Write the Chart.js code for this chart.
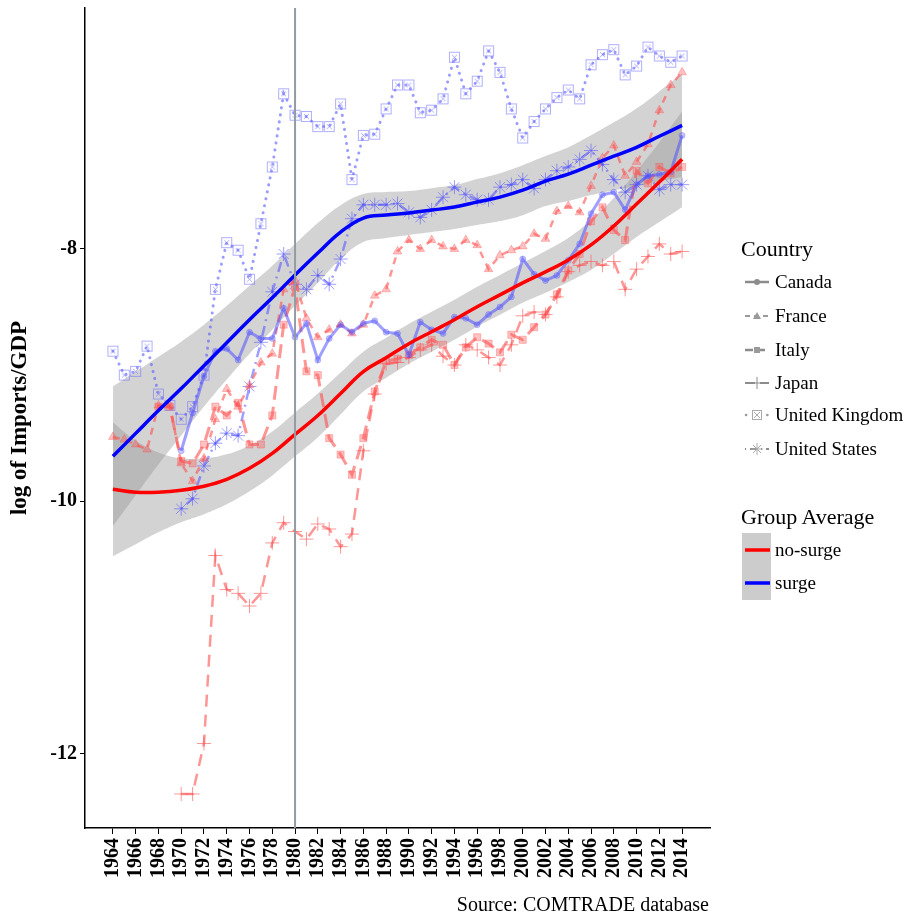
<!DOCTYPE html>
<html>
<head>
<meta charset="utf-8">
<script src="https://cdn.jsdelivr.net/npm/chart.js@4.4.1/dist/chart.umd.min.js"></script>
<style>
  html, body { margin: 0; padding: 0; background: #fff; }
  #wrap { position: relative; width: 907px; height: 920px; font-family: "Liberation Serif", serif; color: #000; }
  #chart { position: absolute; left: 0; top: 0; }
  .ltitle { position: absolute; left: 741px; font-size: 22px; line-height: 22px; }
  .item { position: absolute; left: 744px; height: 20px; display: flex; align-items: center; font-size: 19px; line-height: 20px; }
  .item svg { width: 26px; height: 20px; margin-right: 5px; }
  #gbox { position: absolute; left: 742px; top: 533px; width: 29px; height: 67px; background: #cccccc; }
  #source { position: absolute; right: 198px; top: 893px; font-size: 20px; line-height: 23px; }
</style>
</head>
<body>
<div id="wrap">
  <canvas id="chart" width="907" height="920"></canvas>

  <div class="ltitle" style="top:238px">Country</div>
  <div class="item" style="top:272px">
    <svg viewBox="0 0 26 20"><line x1="1" y1="10" x2="25" y2="10" stroke="#8c8c8c" stroke-width="2.5"/><circle cx="13" cy="10" r="3" fill="#8c8c8c"/></svg>Canada</div>
  <div class="item" style="top:306px">
    <svg viewBox="0 0 26 20"><line x1="1" y1="10" x2="25" y2="10" stroke="#9a9a9a" stroke-width="2" stroke-dasharray="5,4"/><polygon points="13,6 17,13 9,13" fill="#9a9a9a"/></svg>France</div>
  <div class="item" style="top:340px">
    <svg viewBox="0 0 26 20"><line x1="1" y1="10" x2="25" y2="10" stroke="#8c8c8c" stroke-width="2.5" stroke-dasharray="8,4"/><rect x="10" y="7" width="6" height="6" fill="#9a9a9a"/></svg>Italy</div>
  <div class="item" style="top:373px">
    <svg viewBox="0 0 26 20"><line x1="1" y1="10" x2="25" y2="10" stroke="#8c8c8c" stroke-width="2" stroke-dasharray="10,5"/><path d="M13 4 V16 M7 10 H19" stroke="#8c8c8c" stroke-width="1"/></svg>Japan</div>
  <div class="item" style="top:405px">
    <svg viewBox="0 0 26 20"><line x1="2" y1="10" x2="25" y2="10" stroke="#9a9a9a" stroke-width="2.5" stroke-linecap="round" stroke-dasharray="0.1,7"/><rect x="8.5" y="5.5" width="9" height="9" fill="#fff" stroke="#aaaaaa"/><path d="M10 7 L16 13 M16 7 L10 13" stroke="#aaaaaa"/></svg>United Kingdom</div>
  <div class="item" style="top:439px">
    <svg viewBox="0 0 26 20"><line x1="1" y1="10" x2="25" y2="10" stroke="#8c8c8c" stroke-width="2" stroke-dasharray="1,4,7,4"/><path d="M13 4 V16 M7 10 H19 M9 6 L17 14 M17 6 L9 14" stroke="#aaaaaa" stroke-width="1"/></svg>United States</div>

  <div class="ltitle" style="top:506px">Group Average</div>
  <div id="gbox"></div>
  <div class="item" style="top:540px">
    <svg viewBox="0 0 26 20"><line x1="1" y1="10" x2="26" y2="10" stroke="#ff0000" stroke-width="3.5"/></svg>no-surge</div>
  <div class="item" style="top:573px">
    <svg viewBox="0 0 26 20"><line x1="1" y1="10" x2="26" y2="10" stroke="#0000ff" stroke-width="3.5"/></svg>surge</div>

  <div id="source">Source: COMTRADE database</div>
</div>

<script>
// Years of the country series
const years = [1964, 1965, 1966, 1967, 1968, 1969, 1970, 1971, 1972, 1973,
  1974, 1975, 1976, 1977, 1978, 1979, 1980, 1981, 1982, 1983,
  1984, 1985, 1986, 1987, 1988, 1989, 1990, 1991, 1992, 1993,
  1994, 1995, 1996, 1997, 1998, 1999, 2000, 2001, 2002, 2003,
  2004, 2005, 2006, 2007, 2008, 2009, 2010, 2011, 2012, 2013, 2014];

// log of Imports/GDP per country (null = no data)
const canada = [null, null, null, null, null, null, -9.60, -9.30, -9.01, -8.81,
  -8.79, -8.88, -8.66, -8.71, -8.71, -8.47, -8.70, -8.59, -8.88, -8.71,
  -8.60, -8.66, -8.59, -8.57, -8.66, -8.67, -8.84, -8.58, -8.64, -8.67,
  -8.54, -8.55, -8.60, -8.52, -8.46, -8.38, -8.08, -8.20, -8.25, -8.21,
  -8.09, -7.96, -7.72, -7.57, -7.55, -7.69, -7.49, -7.42, -7.41, -7.39, -7.10];
const france = [-9.49, -9.51, -9.55, -9.59, -9.24, -9.24, -9.70, -9.84, -9.66, -9.35,
  -9.11, -9.25, -9.08, -8.90, -8.83, -8.32, -8.25, -8.55, -8.70, -8.64,
  -8.60, -8.67, -8.60, -8.37, -8.32, -8.02, -7.93, -8.00, -7.93, -7.98,
  -8.00, -7.93, -7.97, -8.16, -8.05, -8.01, -7.98, -7.88, -7.92, -7.70,
  -7.66, -7.71, -7.50, -7.28, -7.18, -7.42, -7.31, -7.17, -6.90, -6.70, -6.60];
const italy = [null, null, null, null, -9.25, -9.25, -9.68, -9.70, -9.55, -9.25,
  -9.32, -9.22, -9.55, -9.55, -9.32, -8.60, -8.30, -8.97, -9.00, -9.50,
  -9.63, -9.79, -9.50, -9.13, -8.89, -8.87, -8.84, -8.78, -8.72, -8.76,
  -8.92, -8.78, -8.70, -8.75, -8.82, -8.68, -8.72, -8.62, -8.52, -8.36,
  -8.17, -8.04, -7.78, -7.67, -7.85, -7.93, -7.38, -7.48, -7.35, -7.40, -7.35];
const japan = [null, null, null, null, null, null, -12.32, -12.32, -11.92, -10.43,
  -10.70, -10.73, -10.83, -10.73, -10.33, -10.17, -10.24, -10.30, -10.18, -10.22,
  -10.36, -10.26, -9.60, -9.15, -8.91, -8.90, -8.86, -8.80, -8.76, -8.85,
  -8.92, -8.76, -8.80, -8.86, -8.92, -8.76, -8.53, -8.50, -8.52, -8.38,
  -8.18, -8.13, -8.10, -8.13, -8.10, -8.32, -8.16, -8.06, -7.96, -8.04, -8.02];
const uk = [-8.81, -9.00, -8.97, -8.77, -9.15, -9.24, -9.35, -9.25, -9.00, -8.32,
  -7.95, -8.01, -8.24, -7.80, -7.35, -6.77, -6.94, -6.95, -7.03, -7.03,
  -6.85, -7.45, -7.10, -7.09, -6.89, -6.70, -6.70, -6.92, -6.90, -6.81,
  -6.48, -6.77, -6.67, -6.43, -6.60, -6.89, -7.12, -6.99, -6.89, -6.80,
  -6.74, -6.81, -6.54, -6.46, -6.42, -6.62, -6.55, -6.40, -6.47, -6.52, -6.47];
const us = [null, null, null, null, null, null, -10.06, -9.98, -9.72, -9.54,
  -9.46, -9.48, -9.09, -8.74, -8.34, -8.04, -8.28, -8.32, -8.21, -8.28,
  -8.08, -7.76, -7.65, -7.65, -7.65, -7.64, -7.71, -7.75, -7.69, -7.59,
  -7.51, -7.57, -7.61, -7.61, -7.51, -7.49, -7.45, -7.52, -7.45, -7.38,
  -7.35, -7.29, -7.22, -7.33, -7.45, -7.55, -7.49, -7.42, -7.53, -7.49, -7.49];

// Group average smooth fits and their standard error band
const fitYears = [1964, 1966, 1968, 1970, 1972, 1974, 1976, 1978, 1980, 1982, 1984, 1986, 1988,
  1990, 1992, 1994, 1996, 1998, 2000, 2002, 2004, 2006, 2008, 2010, 2012, 2014];
const surgeFit = [-9.644, -9.462, -9.281, -9.107, -8.925, -8.743, -8.561, -8.387, -8.206, -8.032, -7.866, -7.755, -7.731,
  -7.715, -7.692, -7.668, -7.628, -7.589, -7.534, -7.462, -7.407, -7.336, -7.265, -7.194, -7.107, -7.020];
const surgeSE = [0.553, 0.490, 0.427, 0.372, 0.324, 0.292, 0.269, 0.253, 0.245, 0.237, 0.213, 0.190, 0.182,
  0.174, 0.174, 0.174, 0.182, 0.190, 0.198, 0.198, 0.213, 0.237, 0.269, 0.308, 0.356, 0.411];
const noSurgeFit = [-9.905, -9.929, -9.929, -9.913, -9.881, -9.826, -9.739, -9.621, -9.470, -9.320, -9.146, -8.972, -8.862,
  -8.751, -8.656, -8.561, -8.458, -8.364, -8.269, -8.182, -8.087, -7.968, -7.818, -7.644, -7.470, -7.289];
const noSurgeSE = [0.530, 0.411, 0.316, 0.253, 0.221, 0.198, 0.182, 0.174, 0.174, 0.174, 0.166, 0.158, 0.158,
  0.158, 0.158, 0.158, 0.158, 0.158, 0.158, 0.166, 0.174, 0.198, 0.221, 0.261, 0.316, 0.379];

// Axis ticks and limits
const xTickYears = [1964, 1966, 1968, 1970, 1972, 1974, 1976, 1978, 1980, 1982, 1984, 1986, 1988,
  1990, 1992, 1994, 1996, 1998, 2000, 2002, 2004, 2006, 2008, 2010, 2012, 2014];
const yTickValues = [-12, -10, -8];
const xMin = 1961.55, xMax = 2016.45;
const yMin = -12.59, yMax = -6.09;
const breakYear = 1980;

const FONT = "'Liberation Serif', 'Times New Roman', serif";
const RED_LINE = "rgba(255, 80, 80, 0.6)";
const RED_FILL = "rgba(255, 80, 80, 0.35)";
const BLUE_LINE = "rgba(80, 80, 255, 0.55)";
const BLUE_FILL = "rgba(80, 80, 255, 0.3)";
const BAND = "rgba(150, 150, 150, 0.42)";

function pts(xs, ys) {
  return xs.map((x, i) => ({ x: x, y: ys[i] }));
}

// boxed cross marker for the United Kingdom
function boxCross(color) {
  const c = document.createElement("canvas");
  c.width = 13; c.height = 13;
  const g = c.getContext("2d");
  g.strokeStyle = color;
  g.lineWidth = 1;
  g.strokeRect(1.5, 1.5, 10, 10);
  g.beginPath();
  g.moveTo(4, 4); g.lineTo(9, 9);
  g.moveTo(9, 4); g.lineTo(4, 9);
  g.stroke();
  return c;
}

function country(data, opts) {
  return Object.assign({
    data: pts(years, data),
    borderWidth: 2.5,
    pointRadius: 5,
    pointBorderWidth: 1,
    fill: false,
    tension: 0,
    order: 2
  }, opts);
}

function band(fit, se, sign) {
  return {
    data: pts(fitYears, fit.map((v, i) => v + sign * se[i])),
    borderWidth: 0,
    pointRadius: 0,
    tension: 0.4,
    backgroundColor: BAND,
    fill: sign > 0 ? "+1" : false,
    order: 5
  };
}

// vertical reference line at the break year
const refLine = {
  id: "refLine",
  afterDatasetsDraw(chart) {
    const { ctx, chartArea, scales } = chart;
    const x = scales.x.getPixelForValue(breakYear);
    ctx.save();
    ctx.strokeStyle = "#939ca4";
    ctx.lineWidth = 2;
    ctx.beginPath();
    ctx.moveTo(x, chartArea.top);
    ctx.lineTo(x, chartArea.bottom);
    ctx.stroke();
    ctx.restore();
  }
};

const ctx = document.getElementById("chart").getContext("2d");
new Chart(ctx, {
  type: "line",
  data: {
    datasets: [
      band(surgeFit, surgeSE, 1),
      band(surgeFit, surgeSE, -1),
      band(noSurgeFit, noSurgeSE, 1),
      band(noSurgeFit, noSurgeSE, -1),

      country(canada, { label: "Canada", borderColor: BLUE_LINE, borderWidth: 3,
        pointStyle: "circle", pointRadius: 3, pointBackgroundColor: BLUE_FILL, pointBorderColor: BLUE_FILL }),
      country(france, { label: "France", borderColor: RED_LINE, borderDash: [7, 6],
        pointStyle: "triangle", pointRadius: 5, pointBackgroundColor: RED_FILL, pointBorderColor: RED_FILL }),
      country(italy, { label: "Italy", borderColor: RED_LINE, borderDash: [14, 7], borderWidth: 3,
        pointStyle: "rect", pointRadius: 5, pointBackgroundColor: RED_FILL, pointBorderColor: RED_FILL }),
      country(japan, { label: "Japan", borderColor: RED_LINE, borderDash: [12, 8],
        pointStyle: "cross", pointRadius: 7, pointBackgroundColor: RED_LINE, pointBorderColor: RED_LINE }),
      country(uk, { label: "United Kingdom", borderColor: "rgba(90, 90, 255, 0.6)", borderDash: [0.1, 7],
        borderCapStyle: "round", borderWidth: 3,
        pointStyle: boxCross("rgba(110, 110, 255, 0.55)"), pointRadius: 6 }),
      country(us, { label: "United States", borderColor: BLUE_LINE, borderDash: [2, 5, 10, 5],
        pointStyle: "star", pointRadius: 7, pointBackgroundColor: BLUE_LINE, pointBorderColor: BLUE_LINE }),

      { label: "no-surge", data: pts(fitYears, noSurgeFit), borderColor: "#ff0000", borderWidth: 3.5,
        pointRadius: 0, tension: 0.4, fill: false, order: 0 },
      { label: "surge", data: pts(fitYears, surgeFit), borderColor: "#0000ff", borderWidth: 3.5,
        pointRadius: 0, tension: 0.4, fill: false, order: 0 }
    ]
  },
  options: {
    responsive: false,
    animation: false,
    layout: { padding: { top: 5, right: 197, left: 0, bottom: 0 } },
    plugins: {
      legend: { display: false },
      tooltip: { enabled: false }
    },
    scales: {
      x: {
        type: "linear",
        min: xMin,
        max: xMax,
        afterBuildTicks: s => { s.ticks = xTickYears.map(v => ({ value: v })); },
        afterFit: s => { s.height = 92; s.paddingLeft = 0; s.paddingRight = 0; },
        grid: { drawOnChartArea: false, tickLength: 6, color: "#000", tickWidth: 1 },
        border: { color: "#000", width: 1.5 },
        ticks: {
          autoSkip: false, minRotation: 90, maxRotation: 90, padding: 4, color: "#000",
          font: { family: FONT, size: 20, weight: "bold" },
          callback: v => String(v)
        }
      },
      y: {
        min: yMin,
        max: yMax,
        afterBuildTicks: s => { s.ticks = yTickValues.map(v => ({ value: v })); },
        afterFit: s => { s.width = 85; s.paddingTop = 0; s.paddingBottom = 0; },
        grid: { drawOnChartArea: false, tickLength: 5, color: "#000", tickWidth: 1 },
        border: { color: "#000", width: 1.5 },
        title: {
          display: true, text: "log of Imports/GDP", color: "#000",
          font: { family: FONT, size: 23, weight: "bold" }, padding: { top: 6, bottom: 0 }
        },
        ticks: {
          padding: 3, color: "#000",
          font: { family: FONT, size: 20, weight: "bold" },
          callback: v => String(v)
        }
      }
    }
  },
  plugins: [refLine]
});
</script>
</body>
</html>
